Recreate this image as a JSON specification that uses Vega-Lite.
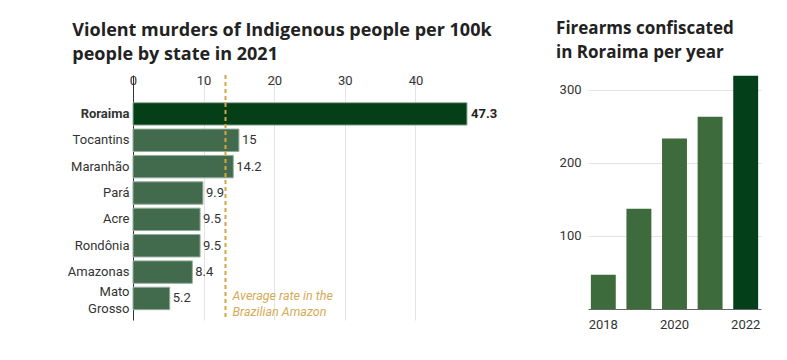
{
  "$schema": "https://vega.github.io/schema/vega-lite/v6.json",
  "background": "white",
  "padding": {"left": 67, "top": 20, "right": 5, "bottom": 5},
  "spacing": 58,
  "config": {
    "view": {"stroke": null},
    "font": "Roboto",
    "axis": {"labelFont": "Roboto", "labelFontSize": 13, "labelColor": "#333", "title": null, "ticks": false, "gridColor": "#e3e3e3", "labelFlush": false},
    "title": {"font": "Open Sans", "fontSize": 18, "fontWeight": 700, "color": "#222", "anchor": "start", "lineHeight": 24}
  },
  "hconcat": [
    {
      "title": {"text": ["Violent murders of Indigenous people per 100k", "people by state in 2021"], "frame": "bounds", "offset": 10, "dx": 5},
      "width": 334,
      "height": 245,
      "layer": [
        {
          "data": {"values": [
            {"state": "Roraima", "rate": 47.3},
            {"state": "Tocantins", "rate": 15},
            {"state": "Maranhão", "rate": 14.2},
            {"state": "Pará", "rate": 9.9},
            {"state": "Acre", "rate": 9.5},
            {"state": "Rondônia", "rate": 9.5},
            {"state": "Amazonas", "rate": 8.4},
            {"state": "Mato Grosso", "rate": 5.2}
          ]},
          "layer": [
            {
              "mark": {"type": "bar", "stroke": "#93ad9a", "strokeWidth": 1},
              "encoding": {
                "y": {"field": "state", "type": "nominal", "sort": null,
                  "scale": {"paddingInner": 0.15, "paddingOuter": 0.722, "align": 0.728},
                  "axis": {"domainColor": "#333", "labelPadding": 4, "labelLineHeight": 17,
                    "labelExpr": "datum.value == 'Mato Grosso' ? ['Mato', 'Grosso'] : datum.value",
                    "labelOffset": {"condition": {"test": "datum.value == 'Mato Grosso'", "value": -6}, "value": 0},
                    "labelFontWeight": {"condition": {"test": "datum.value == 'Roraima'", "value": "bold"}, "value": "normal"}}},
                "x": {"field": "rate", "type": "quantitative",
                  "scale": {"domain": [0, 47.3], "nice": false},
                  "axis": {"orient": "top", "values": [0, 10, 20, 30, 40], "domain": false, "labelPadding": 4, "offset": -16}},
                "color": {"condition": {"test": "datum.state === 'Roraima'", "value": "#053f18"}, "value": "#426a4d"}
              }
            },
            {
              "transform": [{"filter": "datum.state !== 'Roraima'"}],
              "mark": {"type": "text", "align": "left", "dx": 3, "fontSize": 13, "color": "#333"},
              "encoding": {
                "y": {"field": "state", "type": "nominal", "sort": null},
                "x": {"field": "rate", "type": "quantitative"},
                "text": {"field": "rate", "type": "nominal"}
              }
            },
            {
              "transform": [{"filter": "datum.state === 'Roraima'"}],
              "mark": {"type": "text", "align": "left", "dx": 4, "fontSize": 13, "fontWeight": "bold", "color": "#222"},
              "encoding": {
                "y": {"field": "state", "type": "nominal", "sort": null},
                "x": {"field": "rate", "type": "quantitative"},
                "text": {"field": "rate", "type": "nominal"}
              }
            }
          ]
        },
        {
          "data": {"values": [{"avg": 13.1, "label": ["Average rate in the", "Brazilian Amazon"]}]},
          "layer": [
            {
              "mark": {"type": "rule", "color": "#d6a53f", "strokeWidth": 2, "strokeDash": [4, 3]},
              "encoding": {"x": {"field": "avg", "type": "quantitative"}}
            },
            {
              "mark": {"type": "text", "align": "left", "baseline": "middle", "dx": 7, "dy": -2, "fontSize": 12.5, "fontStyle": "italic", "color": "#d5ab55", "lineHeight": 16},
              "encoding": {
                "x": {"field": "avg", "type": "quantitative"},
                "y": {"datum": "Mato Grosso", "type": "nominal"},
                "text": {"field": "label"}
              }
            }
          ]
        }
      ]
    },
    {
      "title": {"text": ["Firearms confiscated", "in Roraima per year"], "frame": "bounds", "offset": 13, "dx": -3, "fontSize": 17},
      "width": 173,
      "height": 234,
      "data": {"values": [
        {"year": "2018", "guns": 47},
        {"year": "2019", "guns": 137},
        {"year": "2020", "guns": 233},
        {"year": "2021", "guns": 263},
        {"year": "2022", "guns": 319}
      ]},
      "mark": {"type": "bar"},
      "encoding": {
        "x": {"field": "year", "type": "ordinal",
          "scale": {"paddingInner": 0.3, "paddingOuter": 0.08},
          "axis": {"values": ["2018", "2020", "2022"], "labelAngle": 0, "domainColor": "#666", "labelPadding": 9}},
        "y": {"field": "guns", "type": "quantitative",
          "scale": {"domain": [0, 320], "nice": false},
          "axis": {"values": [100, 200, 300], "domain": false, "labelPadding": 7}},
        "color": {"condition": {"test": "datum.year === '2022'", "value": "#03401a"}, "value": "#3e6b3b"}
      }
    }
  ]
}
